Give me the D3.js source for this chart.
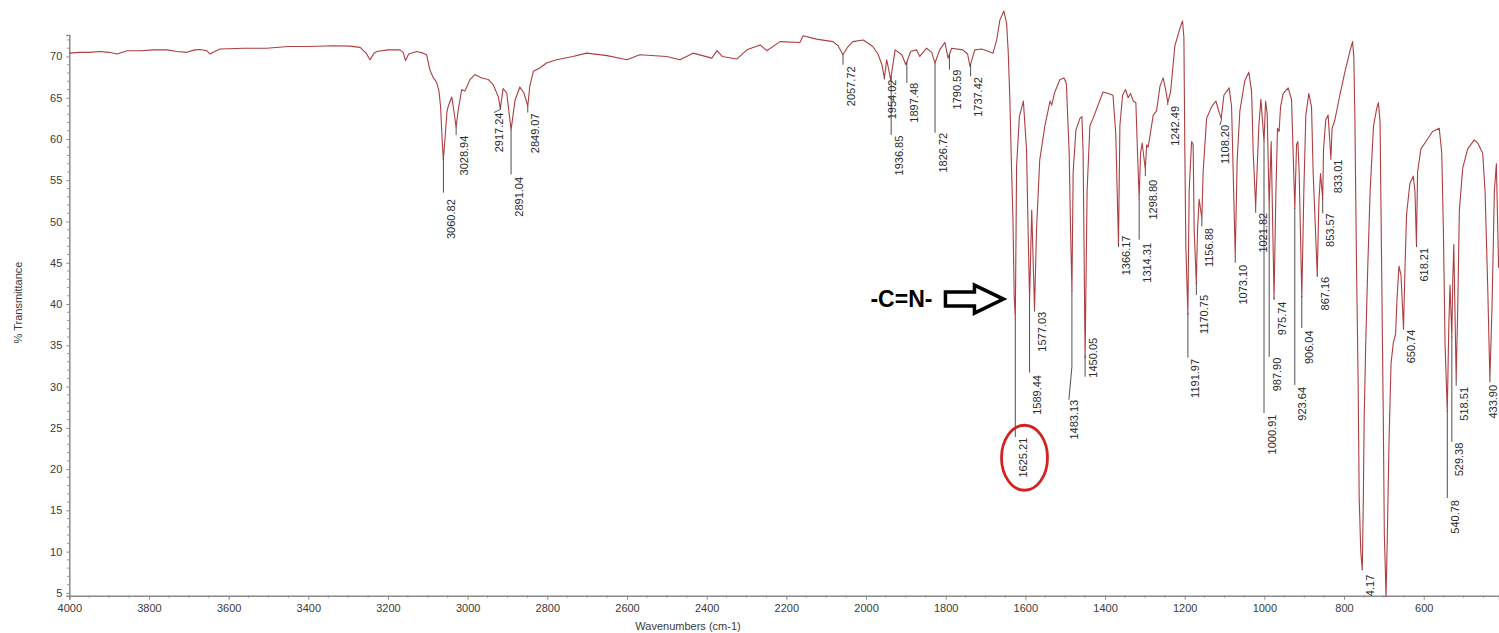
<!DOCTYPE html>
<html>
<head>
<meta charset="utf-8">
<script src="https://cdn.jsdelivr.net/npm/d3@7"></script>
<style>
  body { margin: 0; background: #fff; }
  svg { display: block; font-family: Arial, "Liberation Sans", sans-serif; }
</style>
</head>
<body>
<div id="chart"></div>
<script>
// spectrum: [wavenumber (cm-1), % transmittance]
const spectrum = [
    [4000,70.4],[3975,70.5],[3950,70.5],[3923,70.6],[3900,70.5],[3880,70.3],[3855,70.7],[3820,70.7],
    [3790,70.8],[3755,70.8],[3730,70.6],[3705,70.5],[3685,70.8],[3672,70.85],[3655,70.7],[3647,70.3],
    [3635,70.6],[3622,70.9],[3560,71.0],[3505,71.0],[3450,71.2],[3400,71.2],[3337,71.3],[3295,71.25],
    [3270,71.1],[3255,70.4],[3245,69.6],[3235,70.4],[3228,70.6],[3200,70.8],[3170,70.8],[3162,70.5],
    [3156,69.5],[3148,70.3],[3128,70.6],[3112,70.4],[3103,70.2],[3095,68.4],[3086,67.4],[3078,66.9],
    [3072,65.8],[3068,63.9],[3064,59.9],[3061,57.5],[3057,59.9],[3052,63.3],[3049,63.9],[3044,64.6],
    [3040,65.1],[3036,63.9],[3029,61.4],[3024,63.4],[3015,66.0],[3007,65.8],[3003,66.2],[2994,67.2],
    [2982,67.8],[2965,67.4],[2948,67.2],[2936,66.6],[2923,65.1],[2918,63.7],[2911,66.1],[2902,65.6],
    [2891,61.1],[2881,64.7],[2869,66.3],[2859,65.6],[2849,64.0],[2844,66.4],[2835,68.2],[2819,68.6],
    [2802,69.2],[2777,69.6],[2736,70.0],[2701,70.4],[2650,70.1],[2600,69.6],[2568,70.2],[2500,70.0],
    [2467,69.6],[2434,70.4],[2387,69.8],[2374,70.7],[2361,70.0],[2324,69.7],[2299,70.8],[2266,71.4],
    [2249,70.7],[2216,71.8],[2166,71.7],[2158,72.5],[2124,72.1],[2083,71.8],[2070,71.3],[2058,70.2],
    [2045,71.2],[2033,71.8],[2007,72.0],[1983,71.2],[1970,70.3],[1960,69.0],[1954,67.4],[1948,69.6],
    [1938,67.2],[1927,70.8],[1910,70.2],[1900,69.0],[1888,70.6],[1873,70.8],[1865,70.0],[1848,71.0],
    [1835,70.5],[1827,69.2],[1815,70.8],[1802,71.7],[1794,69.8],[1785,71.0],[1757,70.8],[1745,70.3],
    [1739,68.8],[1727,70.8],[1710,70.9],[1697,70.7],[1681,70.4],[1672,72.0],[1664,74.4],[1654,75.5],
    [1647,74.0],[1643,70.5],[1639,65.0],[1635,57.0],[1631,50.0],[1628,41.0],[1625.2,38.2],[1622,56.7],
    [1615,62.7],[1605,64.6],[1597,58.7],[1593,48.6],[1589.4,40.5],[1584,51.4],[1577,39.3],[1572,49.0],
    [1564,57.4],[1551,61.6],[1538,64.6],[1534,64.1],[1526,65.7],[1513,67.2],[1503,67.4],[1497,66.7],
    [1490,58.3],[1486.5,49.0],[1483.1,41.6],[1480,56.0],[1473,61.1],[1463,62.5],[1458,62.7],[1455,58.3],
    [1450,33.5],[1445,53.7],[1438,61.6],[1430,62.5],[1405,65.7],[1392,65.5],[1380,65.3],[1373,60.6],
    [1366.2,47.2],[1362.7,61.6],[1356,65.3],[1348.5,66.0],[1342,65.0],[1336,65.5],[1329,64.6],[1322.6,64.4],
    [1318.4,58.3],[1314.3,52.7],[1310.8,58.3],[1306.8,59.5],[1298.8,56.3],[1295.5,59.3],[1291.7,59.0],[1279,62.9],
    [1270.6,63.4],[1262,66.4],[1254,67.4],[1246,65.5],[1242.5,64.4],[1235.4,65.7],[1224.6,71.3],[1212,73.4],
    [1205.4,74.3],[1202,72.3],[1199.6,58.3],[1197,46.7],[1192,38.8],[1188.8,53.7],[1182.7,59.7],[1178.8,59.3],
    [1176.2,49.0],[1170.8,42.5],[1167.8,49.0],[1163.7,52.7],[1156.9,50.4],[1153.7,56.0],[1145,62.5],[1132.5,63.9],
    [1121.7,64.6],[1113.4,63.2],[1108.2,62.5],[1101.6,65.3],[1088.4,66.2],[1082.3,63.9],[1078.3,56.0],[1073.1,45.8],
    [1068.3,57.4],[1061.5,63.4],[1049,67.1],[1039,68.1],[1032,65.7],[1028,58.3],[1021.8,51.8],[1019.6,54.6],
    [1013.8,61.6],[1008.8,64.8],[1004.5,62.1],[1000.9,59.7],[996.9,64.6],[992.9,63.0],[987.9,51.8],[982.9,59.7],
    [975.7,40.7],[971,53.7],[967,61.3],[963,60.9],[959.4,63.9],[952.8,65.5],[940.3,66.2],[931.8,64.8],
    [927.8,58.3],[923.6,51.6],[919.2,59.3],[915.9,59.7],[912.7,56.0],[906,40.9],[900.9,53.7],[895.9,62.9],
    [888.4,65.5],[881.6,63.9],[877.6,56.0],[867.2,43.5],[863,52.6],[859,55.8],[853.6,52.8],[851.5,58.7],
    [846,62.3],[840,62.9],[836,59.9],[833,57.6],[830,61.3],[823,62.3],[810.6,65.3],[798,68.1],
    [785.5,70.6],[778.6,71.8],[775.5,70.0],[772.9,63.0],[768.6,44.4],[764.6,30.5],[762,16.6],[758,10.0],
    [754.2,7.8],[751.5,16.6],[749.6,25.8],[745.6,35.1],[740.5,44.4],[734.5,53.7],[726,61.6],[718,63.7],
    [713.8,64.4],[709.6,62.1],[705.6,44.4],[701.4,25.8],[698.8,12.0],[694.5,4.6],[691.3,12.0],[687,23.5],
    [682,32.8],[676.3,35.3],[670.5,36.4],[667,40.7],[662,44.6],[657,43.5],[650.7,37.0],[647,44.4],
    [643,50.9],[634.7,54.6],[626.3,55.5],[622,53.7],[618.2,47.2],[615.4,56.0],[607,58.8],[594.4,59.7],
    [577.8,60.9],[561,61.3],[554.7,58.3],[550.6,49.0],[546.4,35.1],[540.8,27.0],[537,37.4],[534,42.3],
    [529.4,36.0],[527,43.0],[524.5,47.2],[518.5,30.9],[514.5,39.7],[510.5,51.4],[502,56.5],[489.6,58.8],
    [473,59.9],[464.5,59.5],[452,58.3],[446,53.7],[439.3,42.0],[433.9,30.9],[428.5,39.7],[422.6,53.7],
    [417.6,57.0],[412,44.4]
];

// peak picks: wavenumber, where the leader stops and where the label starts (both in % T)
const peakWn = [3060.82, 3028.94, 2917.24, 2891.04, 2849.07, 2057.72, 1954.02, 1936.85, 1897.48, 1826.72,
    1790.59, 1737.42, 1625.21, 1589.44, 1577.03, 1483.13, 1450.05, 1366.17, 1314.31, 1298.80,
    1242.49, 1191.97, 1170.75, 1156.88, 1108.20, 1073.10, 1021.82, 1000.91, 987.90, 975.74,
    923.64, 906.04, 867.16, 853.57, 833.01, 754.17, 650.74, 618.21, 540.78, 529.38, 518.51, 433.90];
const peakLead = [53.5, 60.5, 63.6, 55.7, 63.2, 69.0, 67.2, 60.5, 66.8, 60.75,
    68.4, 67.6, 23.9, 31.7, 39.1, 32.4, 31.2, 46.9, 47.8, 55.5,
    64.1, 33.5, 41.1, 49.4, 62.2, 45.0, 51.05, 26.8, 33.6, 40.5,
    30.2, 37.1, 43.3, 51.0, 57.5, 7.8, 36.9, 46.9, 16.5, 23.3, 30.1, 30.5];
const peakText = [52.7, 60.4, 63.2, 55.4, 63.1, 68.8, 67.2, 60.4, 66.8, 60.75,
    68.4, 67.5, 23.8, 31.4, 39.05, 28.4, 35.9, 48.3, 47.4, 55.05,
    64.0, 33.35, 41.1, 49.2, 61.7, 44.75, 51.05, 26.6, 33.5, 40.3,
    29.95, 36.8, 43.3, 51.0, 57.5, 7.2, 36.9, 46.8, 16.25, 23.2, 29.95, 30.2];
// labels whose leader bends over to another column (wavenumber of the label column)
const bentTags = { 2917.24: 2921.4, 1483.13: 1478.2, 1108.20: 1099.2 };

const xTicks = d3.range(4000, 599, -200);
const xMinor = d3.range(4000, 420, -50);
const yTicks = d3.range(5, 71, 5);
const yMinor = d3.range(5, 73, 1);

let width = 1499;
let height = 633;

let x = d3.scaleLinear().domain([4000, 411]).range([69.3, 1499]);
let y = d3.scaleLinear().domain([4.66, 72.6]).range([595.7, 35]);

let svg = d3.select('#chart')
    .append('svg')
    .attr('width', width)
    .attr('height', height);

svg.append('defs').append('clipPath')
    .attr('id', 'plot-clip')
    .append('rect')
    .attr('x', 0).attr('y', 0)
    .attr('width', width).attr('height', y.range()[0]);

// axes
let axisColor = '#8a8a8a';
let textColor = '#3a3a3a';

let gx = svg.append('g')
    .attr('transform', 'translate(0,' + y.range()[0] + ')')
    .call(d3.axisBottom(x).tickValues(xTicks).tickSize(4).tickPadding(5).tickFormat(d3.format('d')));
gx.append('g').selectAll('line')
    .data(xMinor.filter(d => xTicks.indexOf(d) < 0))
    .enter().append('line')
    .attr('x1', d => x(d)).attr('x2', d => x(d))
    .attr('y1', 0).attr('y2', 2);

let gy = svg.append('g')
    .attr('transform', 'translate(' + x.range()[0] + ',0)')
    .call(d3.axisLeft(y).tickValues(yTicks).tickSize(3).tickPadding(4));
gy.append('g').selectAll('line')
    .data(yMinor.filter(d => yTicks.indexOf(d) < 0))
    .enter().append('line')
    .attr('y1', d => y(d)).attr('y2', d => y(d))
    .attr('x1', 0).attr('x2', -2);

[gx, gy].forEach(function(g) {
    g.select('.domain').attr('stroke', axisColor).attr('stroke-width', 1.5);
    g.selectAll('line').attr('stroke', axisColor);
    g.selectAll('text').attr('fill', textColor).style('font-size', '11px');
});

svg.append('text')
    .attr('x', 688).attr('y', 630)
    .attr('text-anchor', 'middle')
    .attr('fill', textColor)
    .style('font-size', '11px')
    .text('Wavenumbers (cm-1)');

svg.append('text')
    .attr('transform', 'translate(22,302.5) rotate(-90)')
    .attr('text-anchor', 'middle')
    .attr('fill', textColor)
    .style('font-size', '11px')
    .text('% Transmittance');

// the spectrum
let line = d3.line()
    .x(d => x(d[0]))
    .y(d => y(d[1]));

svg.append('path')
    .datum(spectrum)
    .attr('d', line)
    .attr('fill', 'none')
    .attr('stroke', '#ad3e42')
    .attr('stroke-width', 1.1)
    .attr('stroke-linejoin', 'round');

// transmittance on the curve at a given wavenumber
let bisect = d3.bisector(d => -d[0]).left;
function tAt(w) {
    let i = bisect(spectrum, -w);
    if (i <= 0) return spectrum[0][1];
    if (i >= spectrum.length) return spectrum[spectrum.length - 1][1];
    let a = spectrum[i - 1], b = spectrum[i];
    let f = (w - a[0]) / (b[0] - a[0]);
    return a[1] + f * (b[1] - a[1]);
}

// peak labels
let tags = peakWn.map(function(w, i) {
    let xp = x(w);
    let cx = bentTags[w] ? x(bentTags[w]) : xp + 7.5;
    return {
        label: w.toFixed(2),
        xp: xp,
        yp: y(tAt(w)),
        yl: y(peakLead[i]),
        yt: y(peakText[i]),
        cx: Math.min(cx, width - 6),
        bent: !!bentTags[w]
    };
});

let tagLayer = svg.append('g').attr('clip-path', 'url(#plot-clip)');

tagLayer.selectAll('.leader')
    .data(tags)
    .enter()
    .append('path')
    .attr('class', 'leader')
    .attr('fill', 'none')
    .attr('stroke', '#3c3c3c')
    .attr('stroke-width', 0.9)
    .attr('d', function(d) {
        let p = 'M' + d.xp + ',' + d.yp + 'V' + Math.max(d.yp, d.yl);
        if (d.bent) p += 'L' + (d.cx - 5) + ',' + d.yt;
        return p;
    });

tagLayer.selectAll('.tag')
    .data(tags)
    .enter()
    .append('text')
    .attr('class', 'tag')
    .attr('transform', d => 'translate(' + (d.cx + 4) + ',' + d.yt + ') rotate(-90)')
    .attr('text-anchor', 'end')
    .attr('fill', '#2a2a2a')
    .style('font-size', '11px')
    .text(d => d.label);

// -C=N- annotation: block arrow pointing at the imine band, circled 1625.21
let tip = [x(1655), y(40.6)];
let arrow = [[-58, -7], [-29, -7], [-29, -14], [0, 0], [-29, 14], [-29, 7], [-58, 7]];
svg.append('path')
    .attr('d', 'M' + arrow.map(p => (tip[0] + p[0]) + ',' + (tip[1] + p[1])).join('L') + 'Z')
    .attr('fill', '#fff')
    .attr('stroke', '#000')
    .attr('stroke-width', 3.5)
    .attr('stroke-linejoin', 'miter');

svg.append('text')
    .attr('x', tip[0] - 71).attr('y', tip[1] + 8)
    .attr('text-anchor', 'end')
    .attr('fill', '#000')
    .style('font-size', '23px')
    .style('font-weight', 'bold')
    .text('-C=N-');

let circled = tags[peakWn.indexOf(1625.21)];
svg.append('ellipse')
    .attr('cx', circled.cx + 1.7)
    .attr('cy', circled.yt + 20)
    .attr('rx', 23)
    .attr('ry', 32.5)
    .attr('fill', 'none')
    .attr('stroke', '#d42020')
    .attr('stroke-width', 2.8);
</script>
</body>
</html>
